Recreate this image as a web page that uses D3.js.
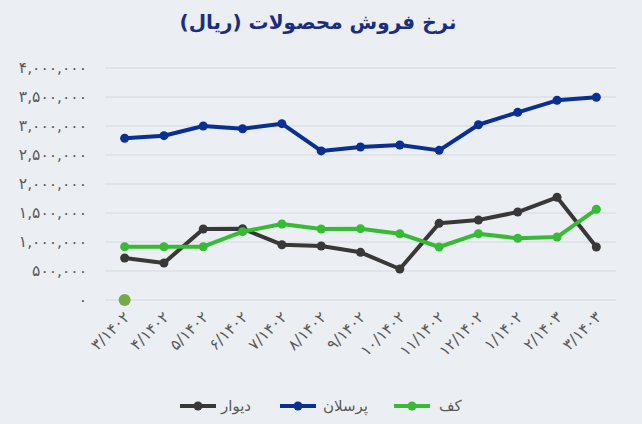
<!DOCTYPE html>
<html>
<head>
	<meta charset="utf-8">
	<script src="https://d3js.org/d3.v7.min.js"></script>
	<style>
		body { margin: 0; background: #ebeef2; font-family: "DejaVu Sans", sans-serif; }
		svg { display: block; }
	</style>
</head>
<body>
<div id="chart"></div>
<script>
	// months (Persian calendar)
	const months = ["۳/۱۴۰۲", "۴/۱۴۰۲", "۵/۱۴۰۲", "۶/۱۴۰۲", "۷/۱۴۰۲", "۸/۱۴۰۲", "۹/۱۴۰۲",
		"۱۰/۱۴۰۲", "۱۱/۱۴۰۲", "۱۲/۱۴۰۲", "۱/۱۴۰۲", "۲/۱۴۰۳", "۳/۱۴۰۳"];

	// series values (rial)
	const divar = [724000, 638000, 1224000, 1230000, 953000, 931000, 822000, 534000, 1322000, 1379000, 1517000, 1771000, 914000];
	const porcelain = [2788000, 2833000, 3000000, 2952000, 3040000, 2570000, 2638000, 2672000, 2580000, 3022000, 3236000, 3443000, 3495000];
	const kaf = [919000, 919000, 919000, 1178000, 1310000, 1224000, 1230000, 1143000, 914000, 1143000, 1064000, 1086000, 1564000];
	// stray point at zero on the first month
	const stray = [0];

	const yTicks = [0, 500000, 1000000, 1500000, 2000000, 2500000, 3000000, 3500000, 4000000];

	const series = [
		{ name: "دیوار", values: divar, color: "#383838" },
		{ name: "پرسلان", values: porcelain, color: "#0a2f93" },
		{ name: "کف", values: kaf, color: "#38bb34" }
	];

	const fa = s => String(s).replace(/\d/g, d => "۰۱۲۳۴۵۶۷۸۹"[d]);

	const W = 642, H = 424;
	const margin = { top: 68, right: 26, bottom: 124, left: 105 };
	const width = W - margin.left - margin.right,
		height = H - margin.top - margin.bottom;

	const svg = d3.select("#chart").append("svg")
		.attr("width", W).attr("height", H);

	svg.append("rect").attr("width", W).attr("height", H).attr("fill", "#ebeef2");

	// title
	svg.append("text")
		.attr("x", 318).attr("y", 29)
		.attr("text-anchor", "middle")
		.style("font-size", "20px").style("font-weight", "bold")
		.attr("fill", "#1b2d7f")
		.text("نرخ فروش محصولات (ریال)");

	const g = svg.append("g").attr("transform", `translate(${margin.left},${margin.top})`);

	const x = d3.scaleBand().domain(months).range([0, width]);
	const y = d3.scaleLinear().domain([0, 4000000]).range([height, 0]);
	const cx = d => x(d) + x.bandwidth() / 2;

	// grid lines
	g.append("g")
		.selectAll("line").data(yTicks).enter().append("line")
		.attr("x1", 0).attr("x2", width)
		.attr("y1", d => y(d)).attr("y2", d => y(d))
		.attr("stroke", "#d6d9de").attr("stroke-width", 1.2);

	// y axis
	const yAxis = g.append("g")
		.call(d3.axisLeft(y).tickValues(yTicks).tickSize(0).tickPadding(18)
			.tickFormat(d => fa(d3.format(",")(d))));
	yAxis.select(".domain").remove();
	yAxis.selectAll("text")
		.style("font-family", "DejaVu Sans").style("font-size", "15.5px")
		.attr("fill", "#595959");

	// x axis
	const xAxis = g.append("g")
		.attr("transform", `translate(0,${height})`)
		.call(d3.axisBottom(x).tickSize(0).tickPadding(0));
	xAxis.select(".domain").remove();
	xAxis.selectAll("text")
		.style("font-family", "DejaVu Sans").style("font-size", "15.5px")
		.attr("fill", "#595959")
		.attr("dy", 0).attr("y", 0)
		.attr("text-anchor", "end")
		.attr("transform", "translate(6,18) rotate(-45)");

	const line = d3.line()
		.x((d, i) => cx(months[i]))
		.y(d => y(d));

	series.forEach(s => {
		g.append("path")
			.datum(s.values)
			.attr("fill", "none")
			.attr("stroke", s.color)
			.attr("stroke-width", 4)
			.attr("stroke-linejoin", "round")
			.attr("d", line);
		g.selectAll(null).data(s.values).enter().append("circle")
			.attr("cx", (d, i) => cx(months[i]))
			.attr("cy", d => y(d))
			.attr("r", 4.5)
			.attr("fill", s.color);
	});

	g.selectAll(null).data(stray).enter().append("circle")
		.attr("cx", (d, i) => cx(months[i]))
		.attr("cy", d => y(d))
		.attr("r", 6)
		.attr("fill", "#70ad47");

	// legend
	const legendItems = [
		{ s: series[0], lx: 180, tx: 221 },
		{ s: series[1], lx: 280, tx: 323 },
		{ s: series[2], lx: 394, tx: 439 }
	];
	const leg = svg.append("g");
	legendItems.forEach(it => {
		leg.append("line")
			.attr("x1", it.lx).attr("x2", it.lx + 36)
			.attr("y1", 406).attr("y2", 406)
			.attr("stroke", it.s.color).attr("stroke-width", 4);
		leg.append("circle")
			.attr("cx", it.lx + 18).attr("cy", 406).attr("r", 4.5)
			.attr("fill", it.s.color);
		leg.append("text")
			.attr("x", it.tx).attr("y", 411)
			.style("font-size", "15px")
			.attr("fill", "#595959")
			.text(it.s.name);
	});
</script>
</body>
</html>
